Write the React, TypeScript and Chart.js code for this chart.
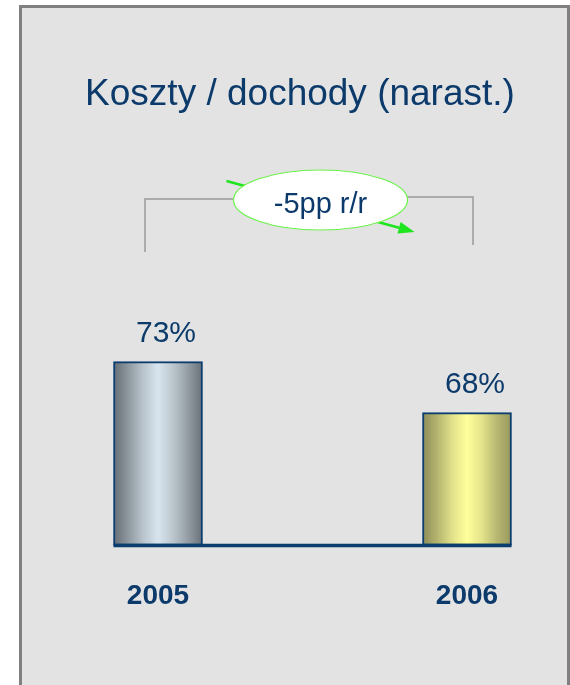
import React, { useEffect, useRef } from 'react';
import { Chart, registerables } from 'chart.js';

Chart.register(...registerables);

const categories: string[] = ['2005', '2006'];
const values: number[] = [73, 68];
const valueLabels: string[] = ['73%', '68%'];
const titleText = 'Koszty / dochody (narast.)';
const changeLabel = '-5pp r/r';
const yMin = 55;
const yMax = 100;

const DARK = '#0b3a6b';
const BAR_W = 89;

const gradientStops: string[][] = [
  ['#656d74', '#8f989f', '#b9c4cc', '#d8e5ef', '#bcc6cd', '#959ea5', '#687077'],
  ['#8c8c58', '#b5b56f', '#e1e18a', '#ffff9c', '#e3e38a', '#b8b872', '#97975c'],
];

const decorPlugin = {
  id: 'decor',
  beforeDraw(chart: any) {
    const c = chart.ctx;
    c.save();
    c.fillStyle = '#ffffff';
    c.fillRect(0, 0, chart.width, chart.height);
    c.fillStyle = '#e3e3e3';
    c.fillRect(19, 5, chart.width - 19, chart.height - 5);
    c.fillStyle = '#808080';
    c.fillRect(19, 5, 3, chart.height - 5);
    c.fillRect(19, 5, chart.width - 19, 3);
    c.fillRect(chart.width - 3, 5, 3, chart.height - 5);
    // title
    c.fillStyle = DARK;
    c.font = '37px "Liberation Sans", Arial, sans-serif';
    c.textAlign = 'center';
    c.textBaseline = 'alphabetic';
    c.fillText(titleText, 300, 105);
    c.restore();
  },
  afterDatasetsDraw(chart: any) {
    const c = chart.ctx;
    const meta = chart.getDatasetMeta(0);
    const bars = meta.data;
    const b0 = bars[0];
    const b1 = bars[1];
    const w0 = b0.width;
    const w1 = b1.width;
    const baseY = chart.scales.y.getPixelForValue(yMin);
    c.save();
    // baseline
    c.strokeStyle = '#0b3d6e';
    c.lineWidth = 3.5;
    c.beginPath();
    c.moveTo(b0.x - w0 / 2, baseY);
    c.lineTo(b1.x + w1 / 2, baseY);
    c.stroke();
    // value labels
    c.fillStyle = DARK;
    c.font = '30px "Liberation Sans", Arial, sans-serif';
    c.textAlign = 'center';
    c.textBaseline = 'alphabetic';
    bars.forEach((b: any, i: number) => {
      c.fillText(valueLabels[i], b.x + 8, b.y - 20);
    });

    // bracket
    const lx = b0.x - 13;
    const rx = b1.x + 6;
    const cx = (b0.x + b1.x) / 2 + 8;
    const cy = 200;
    c.strokeStyle = '#9a9a9a';
    c.lineWidth = 1.5;
    c.beginPath();
    c.moveTo(lx, 252);
    c.lineTo(lx, 199);
    c.lineTo(cx - 60, 199);
    c.stroke();
    c.beginPath();
    c.moveTo(cx + 60, 197);
    c.lineTo(rx, 197);
    c.lineTo(rx, 245);
    c.stroke();

    // green arrow
    const sx = cx - 94, sy = cy - 19;
    const ex = cx + 94, ey = cy + 32;
    const ang = Math.atan2(ey - sy, ex - sx);
    const headLen = 16;
    const headW = 6;
    const bx = ex - headLen * Math.cos(ang);
    const by = ey - headLen * Math.sin(ang);
    c.strokeStyle = '#1ee61e';
    c.fillStyle = '#1ee61e';
    c.lineWidth = 2.5;
    c.beginPath();
    c.moveTo(sx, sy);
    c.lineTo(bx, by);
    c.stroke();
    c.beginPath();
    c.moveTo(ex, ey);
    c.lineTo(bx + headW * Math.sin(ang), by - headW * Math.cos(ang));
    c.lineTo(bx - headW * Math.sin(ang), by + headW * Math.cos(ang));
    c.closePath();
    c.fill();

    // ellipse
    c.beginPath();
    c.ellipse(cx, cy, 87, 30, 0, 0, Math.PI * 2);
    c.fillStyle = '#ffffff';
    c.fill();
    c.strokeStyle = '#6cf24a';
    c.lineWidth = 1.2;
    c.stroke();
    c.fillStyle = DARK;
    c.font = '29px "Liberation Sans", Arial, sans-serif';
    c.textAlign = 'center';
    c.textBaseline = 'alphabetic';
    c.fillText(changeLabel, cx, 213);
    c.restore();
  },
};

function barGradient(ctx: any) {
  const chart = ctx.chart;
  const xs = chart.scales && chart.scales.x;
  const stops = gradientStops[ctx.dataIndex % gradientStops.length];
  if (!xs || !chart.chartArea) return stops[3];
  const cx = xs.getPixelForValue(ctx.dataIndex);
  const g = chart.ctx.createLinearGradient(cx - BAR_W / 2, 0, cx + BAR_W / 2, 0);
  const n = stops.length;
  stops.forEach((s, i) => g.addColorStop(i / (n - 1), s));
  return g;
}

export default function App() {
  const ref = useRef<HTMLCanvasElement | null>(null);
  useEffect(() => {
    if (!ref.current) return;
    const chart = new Chart(ref.current, {
      type: 'bar',
      data: {
        labels: categories,
        datasets: [
          {
            data: values,
            base: yMin,
            backgroundColor: barGradient as any,
            borderColor: '#0b3d6e',
            borderWidth: 2,
            borderSkipped: false,
            barThickness: BAR_W,
            clip: false as any,
          } as any,
        ],
      },
      options: {
        animation: false,
        responsive: false,
        devicePixelRatio: 1,
        layout: { padding: { left: 158, right: 103, top: 86, bottom: 38 } },
        plugins: {
          legend: { display: false },
          title: { display: false },
          tooltip: { enabled: false },
        },
        scales: {
          x: {
            offset: false,
            grid: { display: false, drawTicks: false, tickLength: 0 },
            border: { display: false },
            ticks: {
              color: DARK,
              padding: 34,
              maxRotation: 0,
              autoSkip: false,
              font: { family: '"Liberation Sans", Arial, sans-serif', size: 28, weight: 'bold' },
            },
          },
          y: {
            display: false,
            min: yMin,
            max: yMax,
          },
        },
      },
      plugins: [decorPlugin],
    });
    return () => chart.destroy();
  }, []);
  return (
    <div style={{ position: 'absolute', left: 0, top: 0, width: 570, height: 685 }}>
      <canvas ref={ref} width={570} height={685} style={{ display: 'block', width: 570, height: 685 }} />
    </div>
  );
}
